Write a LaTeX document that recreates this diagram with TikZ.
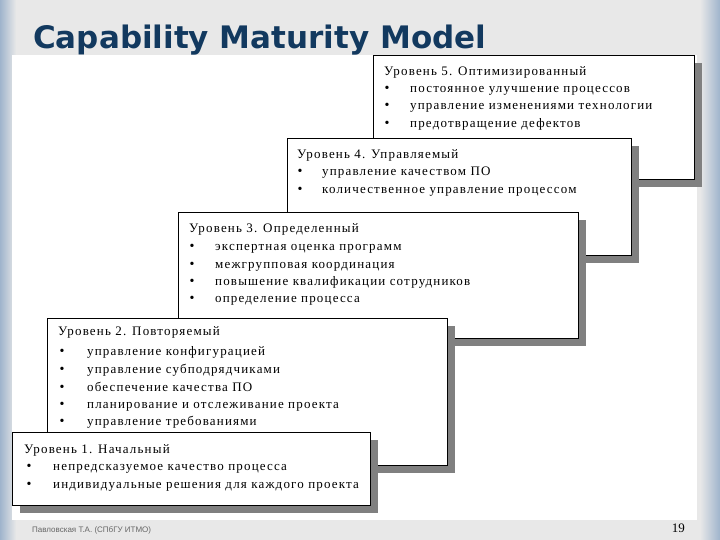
\documentclass[tikz,border=0pt]{standalone}
\usepackage{fontspec}
\setmainfont{Liberation Serif}
\newfontfamily\titlefont{DejaVu Sans}
\newfontfamily\footfont{Liberation Sans}
\definecolor{edge}{HTML}{9FB4CC}
\definecolor{titlec}{HTML}{12395F}
\begin{document}
\begin{tikzpicture}[x=1pt,y=-1pt,
  shadowbox/.style={fill=black!50,draw=none},
  lvlbox/.style={fill=white,draw=black,line width=0.8pt},
  txt/.style={anchor=base west,inner sep=0pt,font=\fontsize{13}{13}\selectfont\addfontfeature{LetterSpace=9}},
  bul/.style={anchor=base,inner sep=0pt,font=\fontsize{14}{14}\selectfont}]
\useasboundingbox (0,0) rectangle (720,540);
\fill[black!9] (0,0) rectangle (720,540);
\shade[left color=edge, right color=black!9] (0,0) rectangle (16,540);
\shade[right color=edge, left color=black!9] (700,0) rectangle (720,540);
\fill[white] (12,55) rectangle (697,520);
\node[anchor=base west,inner sep=0pt,text=titlec,font=\titlefont\bfseries\fontsize{31}{31}\selectfont] (title) at (33,49) {Capability Maturity Model};
% Level 5
\fill[shadowbox] (381,63) rectangle (702,187);
\draw[lvlbox] (373,55) rectangle (694,179);
\node[txt] (h5) at (384,76) {Уровень 5. Оптимизированный};
\foreach \y/\t [count=\i] in {93/постоянное улучшение процессов,110/управление изменениями технологии,128/предотвращение дефектов}{
  \node[bul] (b5\i) at (387,\y) {•}; \node[txt] (t5\i) at (410,\y) {\t};}
% Level 4
\fill[shadowbox] (295,146) rectangle (639,263);
\draw[lvlbox] (287,138) rectangle (631,255);
\node[txt] (h4) at (297,159) {Уровень 4. Управляемый};
\foreach \y/\t [count=\i] in {176/управление качеством ПО,194/количественное управление процессом}{
  \node[bul] (b4\i) at (300,\y) {•}; \node[txt] (t4\i) at (322,\y) {\t};}
% Level 3
\fill[shadowbox] (186,220) rectangle (586,346);
\draw[lvlbox] (178,212) rectangle (578,338);
\node[txt] (h3) at (189,233) {Уровень 3. Определенный};
\foreach \y/\t [count=\i] in {250/экспертная оценка программ,268/межгрупповая координация,285/повышение квалификации сотрудников,302/определение процесса}{
  \node[bul] (b3\i) at (192,\y) {•}; \node[txt] (t3\i) at (215,\y) {\t};}
% Level 2
\fill[shadowbox] (55,326) rectangle (455,473);
\draw[lvlbox] (47,318) rectangle (447,465);
\node[txt] (h2) at (58,335) {Уровень 2. Повторяемый};
\foreach \y/\t [count=\i] in {355/управление конфигурацией,373/управление субподрядчиками,391/обеспечение качества ПО,408/планирование и отслеживание проекта,425/управление требованиями}{
  \node[bul] (b2\i) at (62,\y) {•}; \node[txt] (t2\i) at (87,\y) {\t};}
% Level 1
\fill[shadowbox] (20,440) rectangle (378,513);
\draw[lvlbox] (12,432) rectangle (370,505);
\node[txt] (h1) at (24,453) {Уровень 1. Начальный};
\foreach \y/\t [count=\i] in {470/непредсказуемое качество процесса,488/индивидуальные решения для каждого проекта}{
  \node[bul] (b1\i) at (29,\y) {•}; \node[txt] (t1\i) at (53,\y) {\t};}
% footer
\node[anchor=west,inner sep=0pt,text=black!60,font=\footfont\fontsize{8}{8}\selectfont] (foot) at (32,530) {Павловская Т.А. (СПбГУ ИТМО)};
\node[anchor=east,inner sep=0pt,font=\fontsize{13}{13}\selectfont] (page) at (685,528) {19};
\end{tikzpicture}
\end{document}
